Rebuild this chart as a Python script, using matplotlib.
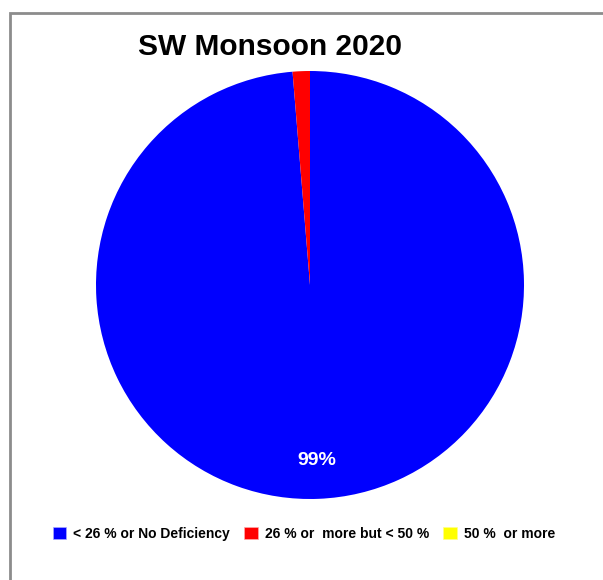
import matplotlib.pyplot as plt
from matplotlib.patches import Rectangle, Patch

# data
labels = ['< 26 % or No Deficiency', '26 % or  more but < 50 %', '50 %  or more']
values = [98.7, 1.3, 0.0]
colors = ['#0000FF', '#FF0000', '#FFFF00']

plt.rcParams['font.family'] = ['Liberation Sans', 'DejaVu Sans']

fig = plt.figure(figsize=(6.03, 5.80), dpi=100)

# grey frame
fig.patches.append(Rectangle((9.5 / 603, -0.1), 1.2, 1 - 12.5 / 580 + 0.1,
                             transform=fig.transFigure, fill=False,
                             edgecolor='#8c8c8c', linewidth=2))

ax = fig.add_axes([96 / 603, 81 / 580, 428 / 603, 428 / 580])


def fmt(p):
    return '%d%%' % round(p) if p >= 5 else ''


wedges, texts, autotexts = ax.pie(values, colors=colors, startangle=90,
                                  counterclock=False, autopct=fmt,
                                  pctdistance=0.82,
                                  textprops=dict(color='white', fontsize=14,
                                                 fontweight='bold'))
ax.set_xlim(-1, 1)
ax.set_ylim(-1, 1)
ax.set_aspect('equal')

fig.text(270 / 603, 1 - 47 / 580, 'SW Monsoon 2020', ha='center', va='center',
         fontsize=21.5, fontweight='bold')

handles = [Patch(facecolor=c, edgecolor='#aaaaff' if i == 0 else '#ffaaaa' if i == 1 else '#ffff88',
                 linewidth=0.5) for i, c in enumerate(colors)]
fig.legend(handles, labels, loc='center left', bbox_to_anchor=(40 / 603, 1 - 534 / 580),
           ncol=3, frameon=False, handlelength=1.0, handleheight=1.0,
           handletextpad=0.5, columnspacing=1.0,
           prop=dict(size=10, weight='bold'))

fig.savefig('out.png', dpi=100)
